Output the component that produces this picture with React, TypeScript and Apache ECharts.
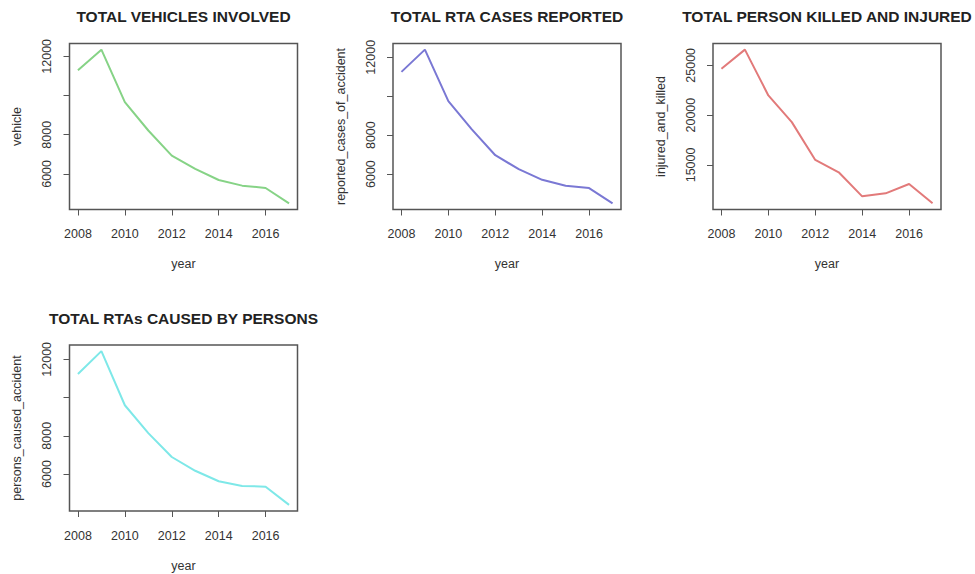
import React, { useEffect, useRef } from "react";
import * as echarts from "echarts";

const years = [2008, 2009, 2010, 2011, 2012, 2013, 2014, 2015, 2016, 2017];
const vehicles = [11284, 12341, 9664, 8215, 6936, 6254, 5691, 5402, 5282, 4498];
const reportedCases = [11250, 12392, 9750, 8300, 6970, 6254, 5708, 5402, 5282, 4498];
const injuredKilled = [24664, 26577, 21980, 19300, 15503, 14261, 11845, 12146, 13086, 11140];
const personsCaused = [11229, 12429, 9600, 8143, 6892, 6172, 5623, 5380, 5340, 4389];

const xTicks = [2008, 2010, 2012, 2014, 2016];
const yTicksSmall = [6000, 8000, 10000, 12000];
const yLabelsSmall = [6000, 8000, 12000];
const yTicksLarge = [15000, 20000, 25000];
const yLabelsLarge = [15000, 20000, 25000];

const titles = [
  "TOTAL VEHICLES INVOLVED",
  "TOTAL RTA CASES REPORTED",
  "TOTAL PERSON KILLED AND INJURED",
  "TOTAL RTAs CAUSED BY PERSONS",
];
const yNames = ["vehicle", "reported_cases_of_accident", "injured_and_killed", "persons_caused_accident"];
const xName = "year";
const colors = ["#86d386", "#7a78d4", "#e27a7a", "#7ee8e8"];

const panels = [
  { data: vehicles, ticks: yTicksSmall, labels: yLabelsSmall, left: 69.5, top: 43.5 },
  { data: reportedCases, ticks: yTicksSmall, labels: yLabelsSmall, left: 393, top: 43.5 },
  { data: injuredKilled, ticks: yTicksLarge, labels: yLabelsLarge, left: 713, top: 43.5 },
  { data: personsCaused, ticks: yTicksSmall, labels: yLabelsSmall, left: 69.5, top: 345 },
];

const W = 228;
const H = 166;
const FONT = "'Liberation Sans', Arial, sans-serif";

function rRange(vals: number[]) {
  const mn = Math.min(...vals);
  const mx = Math.max(...vals);
  const d = (mx - mn) * 0.04;
  return [mn - d, mx + d];
}

export default function App() {
  const ref = useRef<HTMLDivElement>(null);
  useEffect(() => {
    document.body.style.margin = "0";
    const chart = echarts.init(ref.current!, null, { renderer: "svg" });
    const xr = rRange(years);
    const grid: any[] = [];
    const xAxis: any[] = [];
    const yAxis: any[] = [];
    const series: any[] = [];
    const graphic: any[] = [];
    panels.forEach((p, i) => {
      grid.push({
        left: p.left,
        top: p.top,
        width: W,
        height: H,
        show: true,
        borderColor: "#555",
        borderWidth: 1.5,
        backgroundColor: "#fff",
      });
      xAxis.push({
        type: "value",
        gridIndex: i,
        min: xr[0],
        max: xr[1],
        name: xName,
        nameLocation: "middle",
        nameGap: 48,
        nameTextStyle: { color: "#333", fontSize: 12.5, fontFamily: FONT },
        axisLine: { show: false },
        splitLine: { show: false },
        axisTick: { show: true, inside: false, length: 6, lineStyle: { color: "#555" }, customValues: xTicks },
        axisLabel: {
          customValues: xTicks,
          margin: 18,
          color: "#333",
          fontSize: 12.5,
          fontFamily: FONT,
          formatter: (v: number) => String(v),
        },
      });
      const yr = rRange(p.data);
      yAxis.push({
        type: "value",
        gridIndex: i,
        min: yr[0],
        max: yr[1],
        name: yNames[i],
        nameLocation: "middle",
        nameRotate: 90,
        nameGap: 46,
        nameTextStyle: { color: "#333", fontSize: 12.5, fontFamily: FONT },
        axisLine: { show: false },
        splitLine: { show: false },
        axisTick: { show: true, inside: false, length: 6, lineStyle: { color: "#555" }, customValues: p.ticks },
        axisLabel: {
          customValues: p.labels,
          rotate: 90,
          margin: 16,
          color: "#333",
          fontSize: 12.5,
          fontFamily: FONT,
          formatter: (v: number) => String(v),
        },
      });
      series.push({
        type: "line",
        xAxisIndex: i,
        yAxisIndex: i,
        data: years.map((y, k) => [y, p.data[k]]),
        showSymbol: false,
        symbol: "none",
        lineStyle: { color: colors[i], width: 2 },
      });
      graphic.push({
        type: "text",
        x: p.left + W / 2,
        y: p.top - 27,
        style: {
          text: titles[i],
          fill: "#222",
          font: `bold 15.5px ${FONT}`,
          textAlign: "center",
          textVerticalAlign: "middle",
        },
      });
    });
    chart.setOption({
      animation: false,
      backgroundColor: "#fff",
      grid,
      xAxis,
      yAxis,
      series,
      graphic,
    });
    return () => chart.dispose();
  }, []);
  return <div ref={ref} style={{ width: 975, height: 574 }} />;
}
